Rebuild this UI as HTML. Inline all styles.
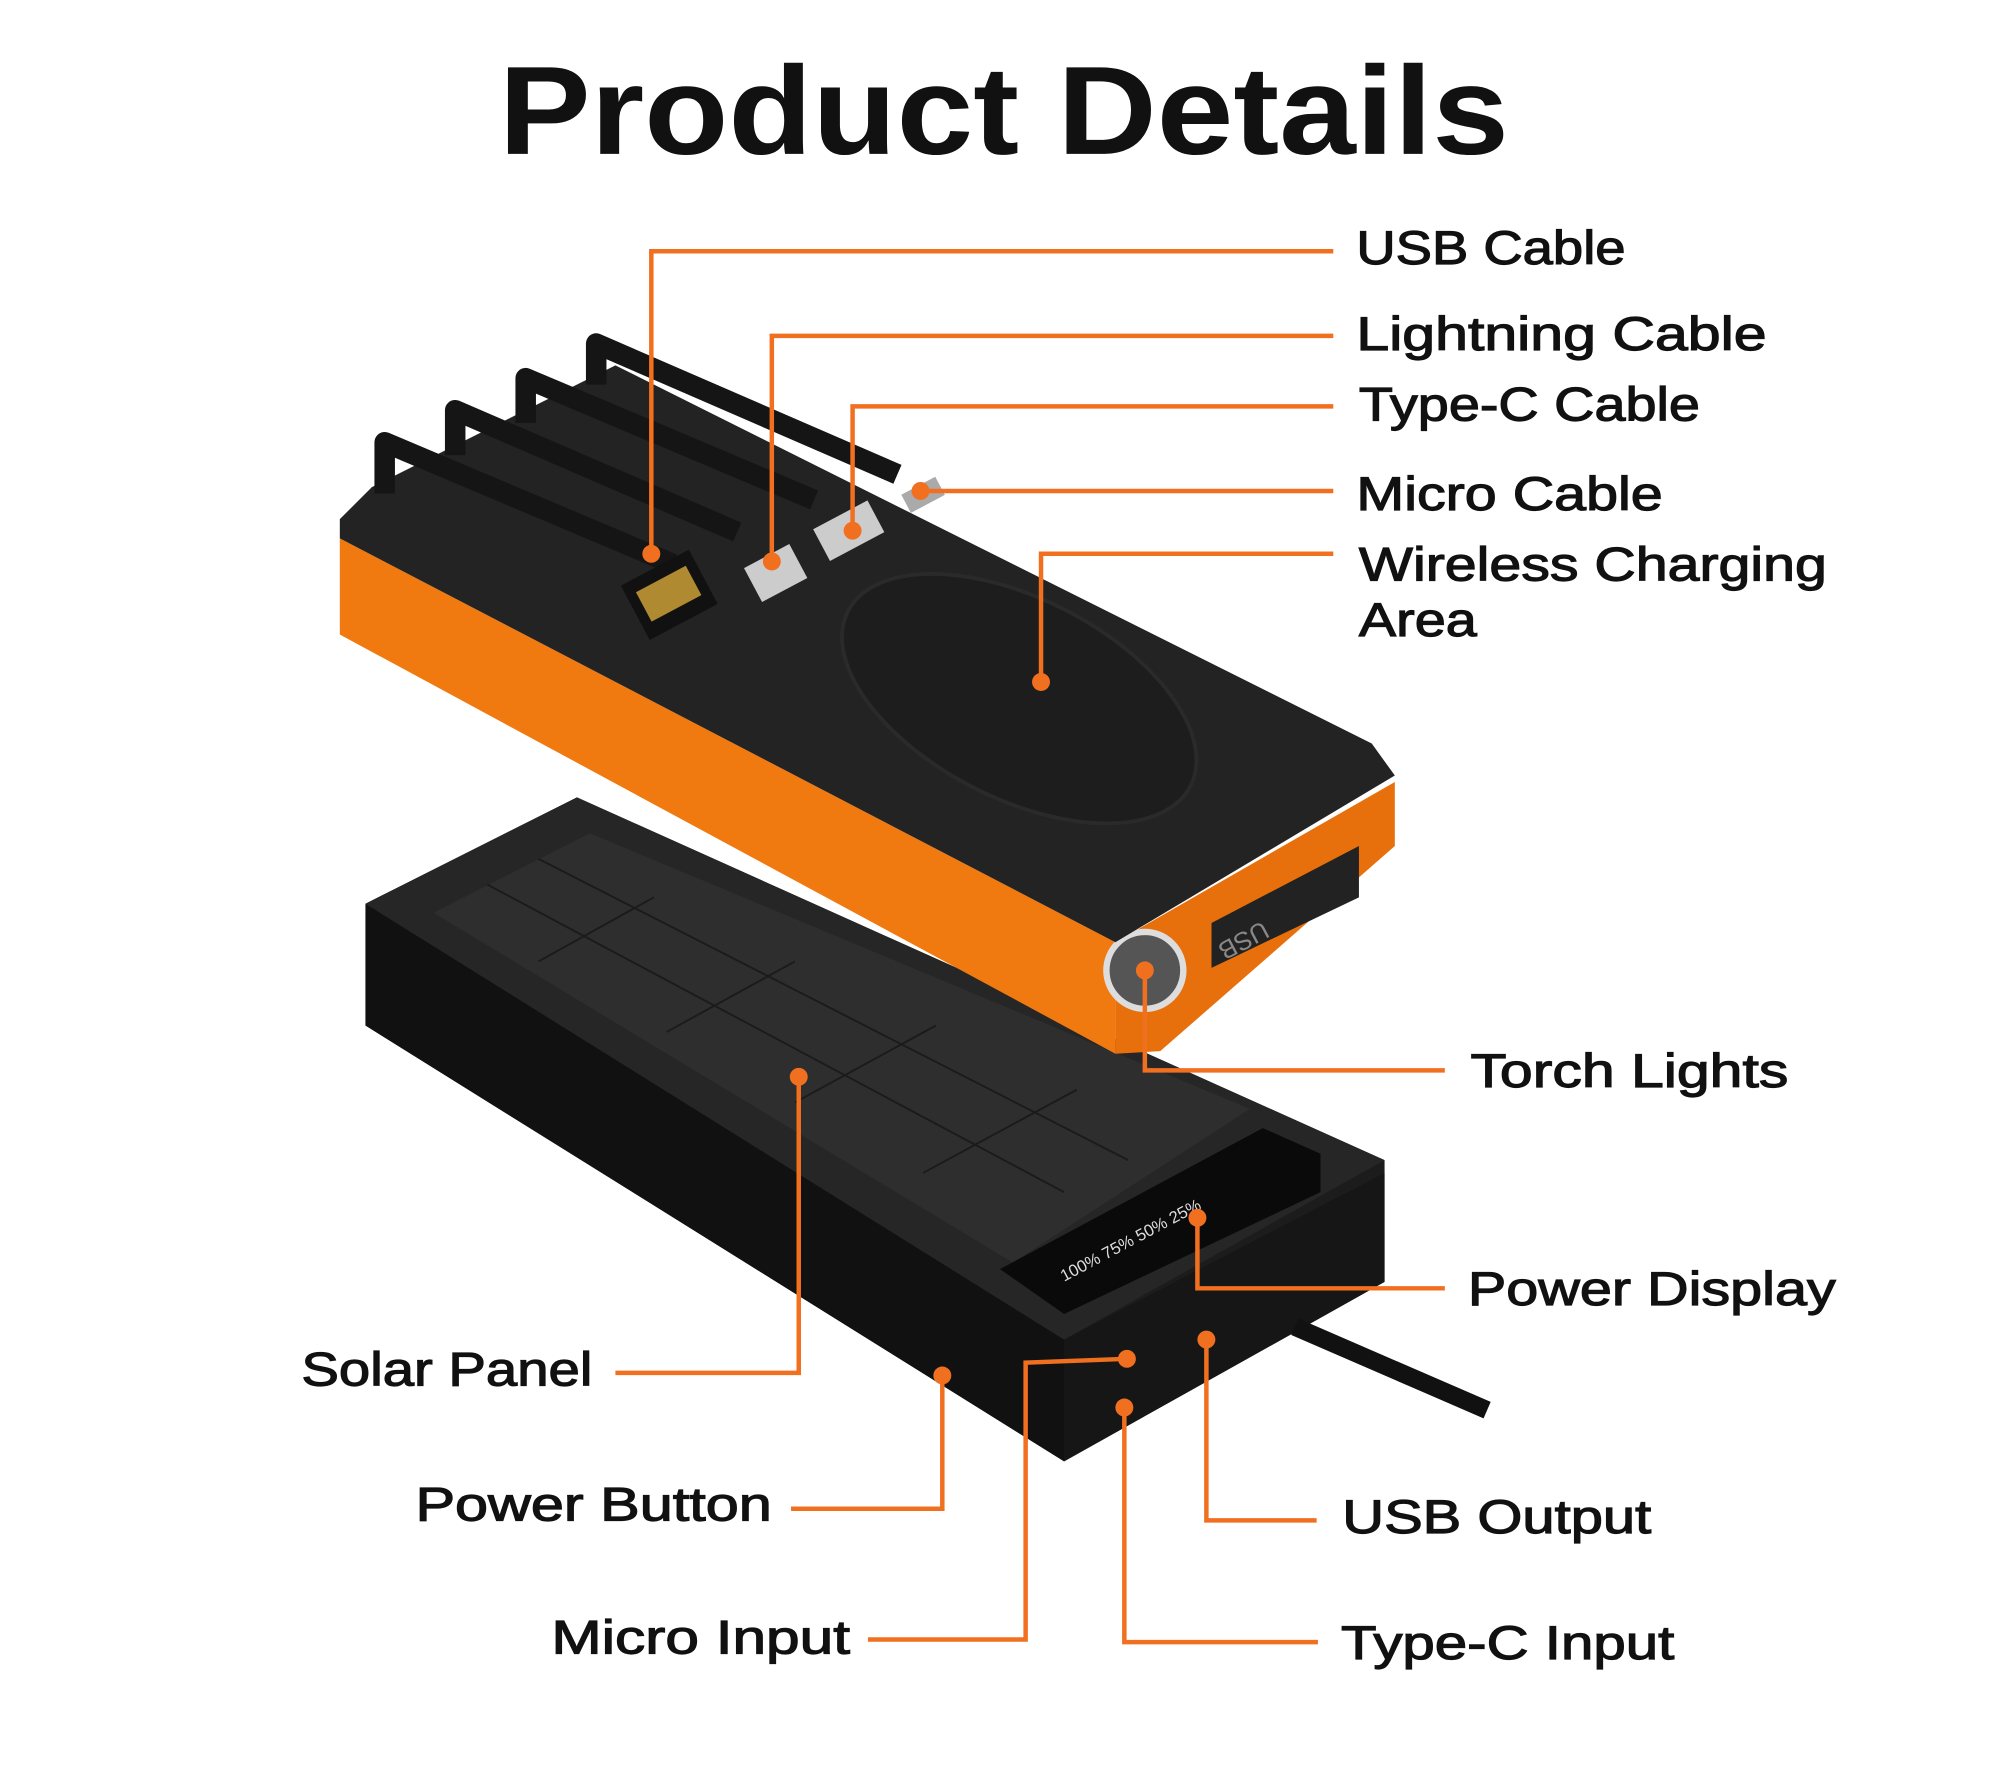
<!DOCTYPE html>
<html><head><meta charset="utf-8"><style>
html,body{margin:0;padding:0;background:#fff;}
svg{display:block;}
text{font-family:"Liberation Sans",sans-serif;fill:#111;}
</style></head><body>
<svg width="2000" height="1778" viewBox="0 0 1560 1387" xmlns="http://www.w3.org/2000/svg">
<rect width="1560" height="1387" fill="#fff"/>
<text x="783" y="120" text-anchor="middle" font-size="98" font-weight="bold" textLength="788" lengthAdjust="spacingAndGlyphs">Product Details</text>

<!-- lower bank -->
<polygon points="285,705 450,622 1080,905 1080,1000 830,1140 285,800" fill="#1c1c1c"/>
<polygon points="285,705 830,1045 830,1140 285,800" fill="#111"/>
<polygon points="830,1045 1080,915 1080,1000 830,1140" fill="#161616"/>
<polygon points="285,705 450,622 1080,905 830,1045" fill="#262626"/>
<polygon points="338,712 460,650 975,865 790,985" fill="#2e2e2e"/>
<polygon points="780,990 985,880 1030,900 1030,930 830,1025" fill="#0a0a0a"/>
<g stroke="#1b1b1b" stroke-width="1.5">
<line x1="380" y1="690" x2="830" y2="930"/><line x1="420" y1="670" x2="880" y2="905"/>
<line x1="510" y1="700" x2="420" y2="750"/><line x1="620" y1="750" x2="520" y2="805"/>
<line x1="730" y1="800" x2="620" y2="860"/><line x1="840" y1="850" x2="720" y2="915"/>
</g>
<line x1="1010" y1="1035" x2="1160" y2="1100" stroke="#111" stroke-width="14"/>
<text x="0" y="0" font-size="13" transform="translate(830,1000) rotate(-28)" style="fill:#ddd">100%  75%  50%  25%</text>

<!-- upper bank -->
<polygon points="265,420 870,735 870,822 265,495" fill="#f07a10"/>
<polygon points="870,735 1088,610 1088,660 905,820 870,822" fill="#e8700c"/>
<polygon points="945,720 1060,660 1060,700 945,755" fill="#222"/>
<text font-size="20" transform="translate(985,718) rotate(-28) rotate(180)" style="fill:#888">USB</text>
<circle cx="893" cy="757" r="30" fill="#555" stroke="#ddd" stroke-width="5"/>
<polygon points="265,405 290,380 480,285 1070,580 1088,605 870,735 265,420" fill="#232323"/>
<ellipse cx="795" cy="545" rx="150" ry="78" transform="rotate(27 795 545)" fill="#1d1d1d" stroke="#2a2a2a" stroke-width="3"/>
<g fill="none" stroke="#151515" stroke-width="16" stroke-linejoin="round">
<polyline points="525,440 300,345 300,385"/>
<polyline points="575,415 355,320 355,355"/>
<polyline points="635,390 410,295 410,330"/>
<polyline points="700,370 465,268 465,300"/>
</g>
<rect x="492" y="440" width="60" height="48" fill="#111" transform="rotate(-28 522 464)"/>
<rect x="500" y="450" width="44" height="26" fill="#b08a30" transform="rotate(-28 522 464)"/>
<rect x="585" y="432" width="40" height="30" fill="#ccc" transform="rotate(-28 605 447)"/>
<rect x="638" y="400" width="48" height="28" fill="#ccc" transform="rotate(-28 662 414)"/>
<rect x="705" y="378" width="30" height="16" fill="#aaa" transform="rotate(-28 720 386)"/>

<!-- connectors -->
<g fill="none" stroke="#f07020" stroke-width="3.5">
<polyline points="1040,196 508,196 508,432"/>
<polyline points="1040,262 602,262 602,438"/>
<polyline points="1040,317 665,317 665,414"/>
<polyline points="1040,383 718,383"/>
<polyline points="1040,432 812,432 812,532"/>
<polyline points="893,757 893,835 1127,835"/>
<polyline points="934,950 934,1005 1127,1005"/>
<polyline points="623,840 623,1071 480,1071"/>
<polyline points="735,1073 735,1177 617,1177"/>
<polyline points="879,1060 800,1063 800,1279 677,1279"/>
<polyline points="941,1045 941,1186 1027,1186"/>
<polyline points="877,1098 877,1281 1028,1281"/>
</g>
<g fill="#f07020">
<circle cx="508" cy="432" r="7"/><circle cx="602" cy="438" r="7"/><circle cx="665" cy="414" r="7"/>
<circle cx="718" cy="383" r="7"/><circle cx="812" cy="532" r="7"/><circle cx="893" cy="757" r="7"/>
<circle cx="934" cy="950" r="7"/><circle cx="623" cy="840" r="7"/><circle cx="735" cy="1073" r="7"/>
<circle cx="879" cy="1060" r="7"/><circle cx="941" cy="1045" r="7"/><circle cx="877" cy="1098" r="7"/>
</g>

<g font-size="37" style="stroke:#111;stroke-width:0.9" lengthAdjust="spacingAndGlyphs">
<text x="1058" y="206" textLength="210" lengthAdjust="spacingAndGlyphs">USB Cable</text>
<text x="1058" y="273" textLength="320" lengthAdjust="spacingAndGlyphs">Lightning Cable</text>
<text x="1060" y="328" textLength="266" lengthAdjust="spacingAndGlyphs">Type-C Cable</text>
<text x="1058" y="398" textLength="239" lengthAdjust="spacingAndGlyphs">Micro Cable</text>
<text x="1060" y="453" textLength="365" lengthAdjust="spacingAndGlyphs">Wireless Charging</text>
<text x="1060" y="496" textLength="92" lengthAdjust="spacingAndGlyphs">Area</text>
<text x="1147" y="848" textLength="248" lengthAdjust="spacingAndGlyphs">Torch Lights</text>
<text x="1145" y="1018" textLength="287" lengthAdjust="spacingAndGlyphs">Power Display</text>
<text x="235" y="1081" textLength="227" lengthAdjust="spacingAndGlyphs">Solar Panel</text>
<text x="324" y="1186" textLength="278" lengthAdjust="spacingAndGlyphs">Power Button</text>
<text x="430" y="1290" textLength="233" lengthAdjust="spacingAndGlyphs">Micro Input</text>
<text x="1047" y="1196" textLength="241" lengthAdjust="spacingAndGlyphs">USB Output</text>
<text x="1046" y="1294" textLength="260" lengthAdjust="spacingAndGlyphs">Type-C Input</text>
</g>
</svg>
</body></html>
